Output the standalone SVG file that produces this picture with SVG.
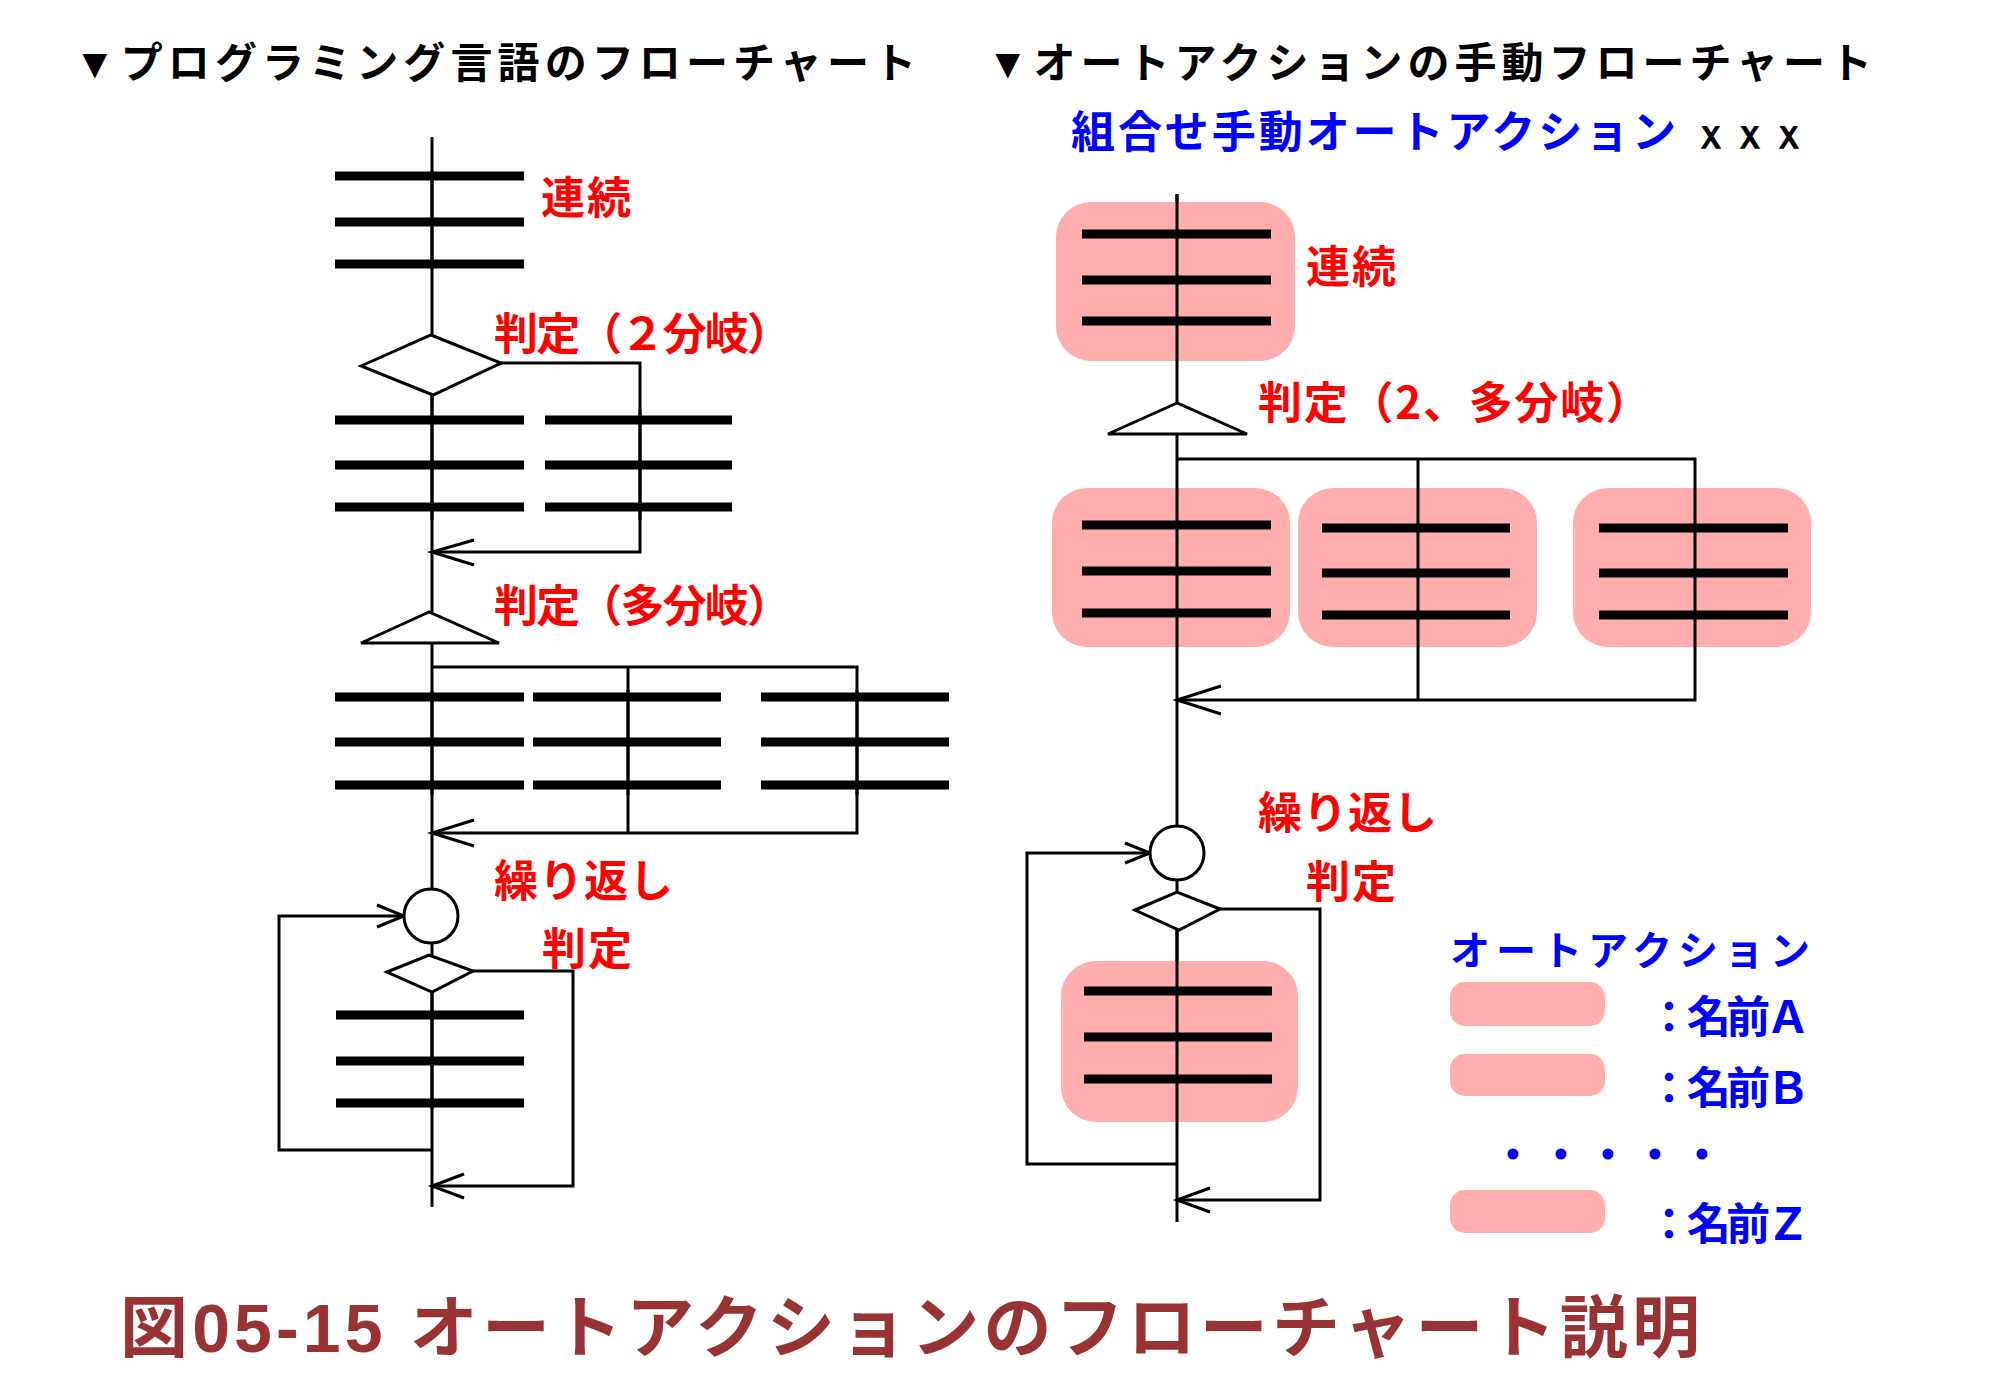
<svg xmlns="http://www.w3.org/2000/svg" width="2000" height="1392" viewBox="0 0 2000 1392">
<style>
.ln{stroke:#000;stroke-width:3;fill:none}
.sh{stroke:#000;stroke-width:3;fill:#fff}
.bar{stroke:#000;stroke-width:9}
.pk{fill:#ffadad}
.red{fill:#ff0000;font-family:"Noto Sans CJK JP",sans-serif;font-weight:bold;font-size:44px}
.ttl{fill:#000;font-family:"Liberation Serif","Noto Sans CJK JP",serif;font-weight:bold;font-size:42px}
.blue{fill:#0000ff;font-family:"Noto Sans CJK JP",sans-serif;font-weight:bold;font-size:44px}
.cap{fill:#993333;font-family:"Liberation Sans","Noto Sans CJK JP",sans-serif;font-weight:bold;font-size:68px}
</style>
<rect width="2000" height="1392" fill="#fff"/>
<text class="ttl" x="74" y="78" textLength="842">▼プログラミング言語のフローチャート</text>
<text class="ttl" x="987" y="78" textLength="885">▼オートアクションの手動フローチャート</text>
<text class="blue" x="1071" y="148" textLength="605">組合せ手動オートアクション</text>
<text class="ttl" x="1690" y="148" style="font-family:'Liberation Sans',sans-serif" textLength="120">ｘｘｘ</text>
<g id="connectors">
<line class="ln" x1="432" y1="137" x2="432" y2="1207"/>
<polyline class="ln" points="501,363 640,363 640,552 432,552"/>
<polyline class="ln" points="474,540 432,552 474,565"/>
<polyline class="ln" points="432,667 857,667 857,833 432,833"/>
<line class="ln" x1="628" y1="667" x2="628" y2="833"/>
<polyline class="ln" points="474,820 432,833 474,846"/>
<polyline class="ln" points="432,1150 279,1150 279,916 404,916"/>
<polyline class="ln" points="377,905 404,916 377,927"/>
<polyline class="ln" points="473,971 573,971 573,1186 432,1186"/>
<polyline class="ln" points="464,1174 432,1186 464,1198"/>
<line class="ln" x1="1177" y1="194" x2="1177" y2="1222"/>
<polyline class="ln" points="1177,459 1695,459 1695,700 1177,700"/>
<line class="ln" x1="1418" y1="459" x2="1418" y2="700"/>
<polyline class="ln" points="1221,686 1177,700 1221,714"/>
<polyline class="ln" points="1177,1164 1027,1164 1027,853 1150,853"/>
<polyline class="ln" points="1125,843 1150,853 1125,863"/>
<polyline class="ln" points="1220,909 1320,909 1320,1200 1177,1200"/>
<polyline class="ln" points="1210,1188 1177,1200 1210,1212"/>
</g>
<g id="left-seq">
<line class="bar" x1="335" y1="176" x2="524" y2="176"/><line class="bar" x1="335" y1="222" x2="524" y2="222"/><line class="bar" x1="335" y1="264" x2="524" y2="264"/>
<line class="ln" x1="432" y1="170" x2="432" y2="270"/>
<text class="red" x="541" y="214" textLength="90">連続</text>
</g>
<g id="left-if2">
<polygon class="sh" points="361,366 431,335 501,363 433,395"/>
<text class="red" x="494" y="350" textLength="297">判定（２分岐）</text>
<line class="bar" x1="335" y1="420" x2="524" y2="420"/><line class="bar" x1="335" y1="465" x2="524" y2="465"/><line class="bar" x1="335" y1="507" x2="524" y2="507"/>
<line class="bar" x1="545" y1="420" x2="732" y2="420"/><line class="bar" x1="545" y1="465" x2="732" y2="465"/><line class="bar" x1="545" y1="507" x2="732" y2="507"/>
<line class="ln" x1="432" y1="395" x2="432" y2="520"/><line class="ln" x1="640" y1="410" x2="640" y2="520"/>
</g>
<g id="left-multi">
<polygon class="sh" points="429,612 361,643 499,643"/>
<text class="red" x="494" y="622" textLength="297">判定（多分岐）</text>
<line class="bar" x1="335" y1="697" x2="524" y2="697"/><line class="bar" x1="335" y1="742" x2="524" y2="742"/><line class="bar" x1="335" y1="785" x2="524" y2="785"/>
<line class="bar" x1="533" y1="697" x2="721" y2="697"/><line class="bar" x1="533" y1="742" x2="721" y2="742"/><line class="bar" x1="533" y1="785" x2="721" y2="785"/>
<line class="bar" x1="761" y1="697" x2="949" y2="697"/><line class="bar" x1="761" y1="742" x2="949" y2="742"/><line class="bar" x1="761" y1="785" x2="949" y2="785"/>
<line class="ln" x1="432" y1="690" x2="432" y2="795"/><line class="ln" x1="628" y1="690" x2="628" y2="795"/><line class="ln" x1="857" y1="690" x2="857" y2="795"/>
</g>
<g id="left-loop">
<circle class="sh" cx="431" cy="916" r="27"/>
<polygon class="sh" points="387,972 429,955 473,971 432,992"/>
<text class="red" x="494" y="897" textLength="179">繰り返し</text>
<text class="red" x="542" y="965" textLength="90">判定</text>
<line class="bar" x1="336" y1="1015" x2="524" y2="1015"/><line class="bar" x1="336" y1="1061" x2="524" y2="1061"/><line class="bar" x1="336" y1="1103" x2="524" y2="1103"/>
<line class="ln" x1="432" y1="992" x2="432" y2="1110"/>
</g>
<g id="right-seq">
<rect class="pk" x="1056" y="202" width="239" height="159" rx="35"/>
<line class="bar" x1="1082" y1="234" x2="1271" y2="234"/><line class="bar" x1="1082" y1="280" x2="1271" y2="280"/><line class="bar" x1="1082" y1="321" x2="1271" y2="321"/>
<line class="ln" x1="1177" y1="194" x2="1177" y2="361"/>
<text class="red" x="1306" y="283" textLength="90">連続</text>
</g>
<g id="right-multi">
<polygon class="sh" points="1177,403 1108,434 1247,434"/>
<text class="red" x="1258" y="419" textLength="392">判定（2、多分岐）</text>
<rect class="pk" x="1052" y="488" width="238" height="159" rx="35"/>
<rect class="pk" x="1298" y="488" width="239" height="159" rx="35"/>
<rect class="pk" x="1573" y="488" width="238" height="159" rx="35"/>
<line class="bar" x1="1082" y1="525" x2="1271" y2="525"/><line class="bar" x1="1082" y1="571" x2="1271" y2="571"/><line class="bar" x1="1082" y1="613" x2="1271" y2="613"/>
<line class="bar" x1="1322" y1="528" x2="1510" y2="528"/><line class="bar" x1="1322" y1="573" x2="1510" y2="573"/><line class="bar" x1="1322" y1="615" x2="1510" y2="615"/>
<line class="bar" x1="1599" y1="528" x2="1788" y2="528"/><line class="bar" x1="1599" y1="573" x2="1788" y2="573"/><line class="bar" x1="1599" y1="615" x2="1788" y2="615"/>
<line class="ln" x1="1177" y1="488" x2="1177" y2="647"/><line class="ln" x1="1418" y1="488" x2="1418" y2="647"/><line class="ln" x1="1695" y1="488" x2="1695" y2="647"/>
</g>
<g id="right-loop">
<circle class="sh" cx="1177" cy="853" r="27"/>
<polygon class="sh" points="1135,910 1177,892 1220,909 1179,930"/>
<text class="red" x="1258" y="829" textLength="179">繰り返し</text>
<text class="red" x="1306" y="898" textLength="90">判定</text>
<rect class="pk" x="1061" y="961" width="237" height="161" rx="35"/>
<line class="bar" x1="1084" y1="991" x2="1272" y2="991"/><line class="bar" x1="1084" y1="1037" x2="1272" y2="1037"/><line class="bar" x1="1084" y1="1079" x2="1272" y2="1079"/>
<line class="ln" x1="1177" y1="930" x2="1177" y2="1122"/>
</g>
<g id="legend">
<text class="blue" x="1450" y="965" textLength="360" style="font-size:40px">オートアクション</text>
<rect class="pk" x="1450" y="982" width="155" height="44" rx="15"/>
<rect class="pk" x="1450" y="1054" width="155" height="42" rx="15"/>
<rect class="pk" x="1450" y="1190" width="155" height="43" rx="15"/>
<text class="blue" x="1647" y="1033" textLength="163">：名前Ａ</text>
<text class="blue" x="1647" y="1104" textLength="163">：名前Ｂ</text>
<text class="blue" x="1647" y="1240" textLength="163">：名前Ｚ</text>
<g fill="#0000ff"><circle cx="1513" cy="1154" r="5.5"/><circle cx="1561" cy="1154" r="5.5"/><circle cx="1608" cy="1154" r="5.5"/><circle cx="1655" cy="1154" r="5.5"/><circle cx="1702" cy="1154" r="5.5"/></g>
</g>
<text class="cap" x="120" y="1352" textLength="1580">図05-15 オートアクションのフローチャート説明</text>
</svg>
